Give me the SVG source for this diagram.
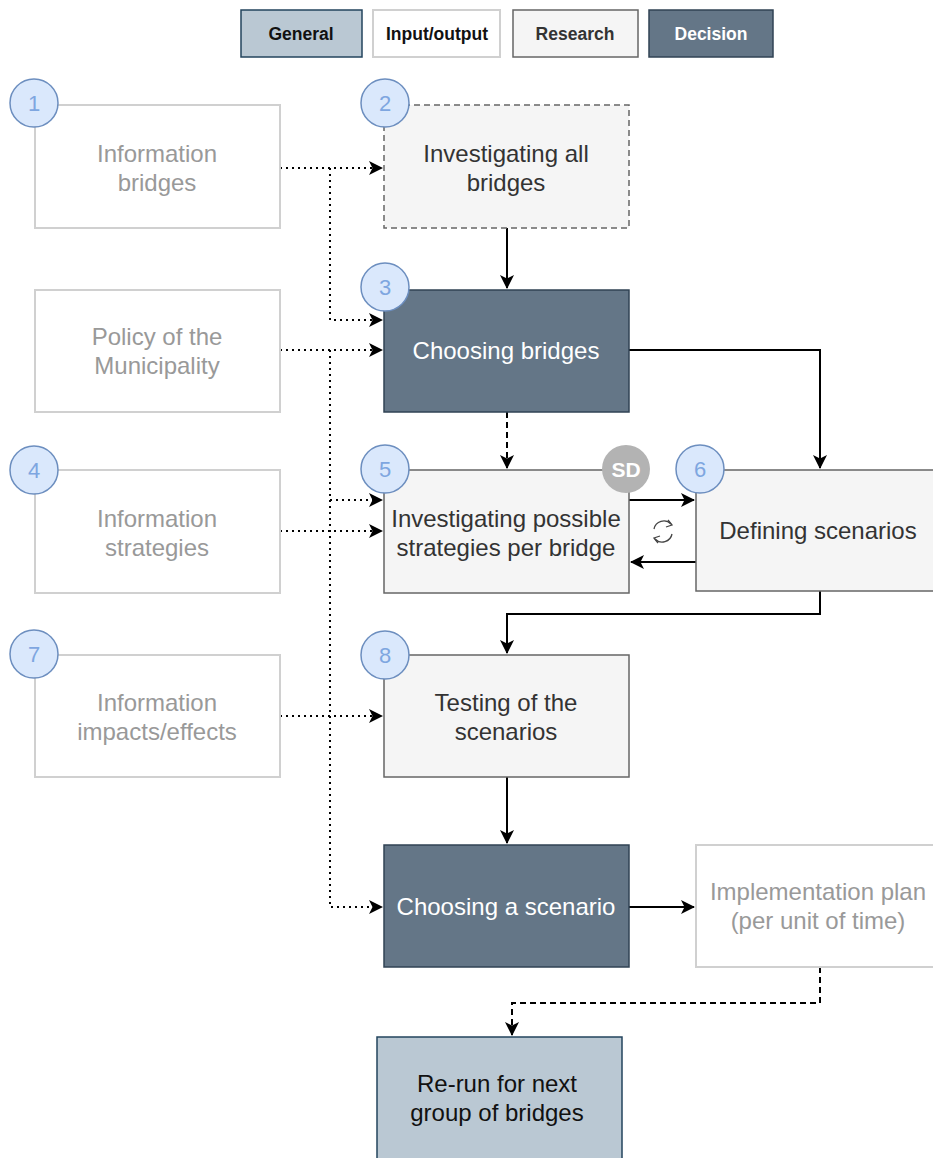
<svg xmlns="http://www.w3.org/2000/svg" width="933" height="1158" viewBox="0 0 933 1158">
<style>
text{font-family:"Liberation Sans",Arial,sans-serif;text-anchor:middle}
.t{font-size:24px;fill:#333}
.tg{font-size:24px;fill:#999}
.tw{font-size:24px;fill:#ffffff}
.tb{font-size:24px;fill:#111}
.lg{font-size:17.5px;font-weight:bold}
.gen{fill:#bac8d3;stroke:#23445d;stroke-width:1.5}
.io{fill:#ffffff;stroke:#d0d0d0;stroke-width:2}
.res{fill:#f5f5f5;stroke:#666666;stroke-width:1.5}
.dec{fill:#647687;stroke:#314354;stroke-width:1.5}
.num circle{fill:#dae8fc;stroke:#6c8ebf;stroke-width:1.5}
.num text{font-size:22px;fill:#7ea6e0}
.c{fill:none;stroke:#000;stroke-width:2}
.dot{stroke-dasharray:2 4}
.dash{stroke-dasharray:6 4}
</style>
<defs>
<marker id="a" viewBox="0 0 14 14" refX="13" refY="7" markerWidth="14" markerHeight="14" markerUnits="userSpaceOnUse" orient="auto">
<path d="M0,0 L14,7 L0,14 L3.5,7 Z" fill="#000"/>
</marker>
</defs>
<g id="legend">
<rect x="241" y="10" width="121" height="47" class="gen"/><text x="301" y="40" class="lg" fill="#111">General</text>
<rect x="373" y="10" width="127" height="47" class="io"/><text x="437" y="40" class="lg" fill="#111">Input/output</text>
<rect x="513" y="10" width="125" height="47" class="res"/><text x="575" y="40" class="lg" fill="#333">Research</text>
<rect x="649" y="10" width="124" height="47" class="dec"/><text x="711" y="40" class="lg" fill="#fff">Decision</text>
</g>
<g id="connectors">
<path class="c dot" d="M280,168 H382" marker-end="url(#a)"/>
<path class="c dot" d="M330,168 V320 H382" marker-end="url(#a)"/>
<path class="c dot" d="M280,350 H382" marker-end="url(#a)"/>
<path class="c dot" d="M330,350 V500 H382" marker-end="url(#a)"/>
<path class="c dot" d="M280,531 H382" marker-end="url(#a)"/>
<path class="c dot" d="M280,716 H382" marker-end="url(#a)"/>
<path class="c dot" d="M330,500 V907 H382" marker-end="url(#a)"/>
<path class="c" d="M507,228 V288" marker-end="url(#a)"/>
<path class="c" d="M629,350 H820 V468" marker-end="url(#a)"/>
<path class="c dash" d="M507,412 V468" marker-end="url(#a)"/>
<path class="c" d="M629,500 H694" marker-end="url(#a)"/>
<path class="c" d="M696,562 H631" marker-end="url(#a)"/>
<path class="c" d="M820,591 V614 H507 V653" marker-end="url(#a)"/>
<path class="c" d="M507,777 V843" marker-end="url(#a)"/>
<path class="c" d="M629,907 H694" marker-end="url(#a)"/>
<path class="c dash" d="M820,967 V1003 H512 V1035" marker-end="url(#a)"/>
</g>
<g id="refresh" fill="none" stroke="#444" stroke-width="1.3">
<path d="M654,529 A10,10 0 0 1 671,524"/>
<path d="M672,534 A10,10 0 0 1 655,539"/>
<path d="M668,520 L672,525 L666,527"/>
<path d="M658,543 L654,538 L660,536"/>
</g>
<g id="n1"><rect x="35" y="105" width="245" height="123" class="io"/><text class="tg" x="157" y="162">Information</text><text class="tg" x="157" y="191">bridges</text></g>
<g id="n2"><rect x="384" y="105" width="245" height="123" class="res" stroke-dasharray="6 4"/><text class="t" x="506" y="162">Investigating all</text><text class="t" x="506" y="191">bridges</text></g>
<g id="n3"><rect x="384" y="290" width="245" height="122" class="dec"/><text class="tw" x="506" y="359">Choosing bridges</text></g>
<g id="policy"><rect x="35" y="290" width="245" height="122" class="io"/><text class="tg" x="157" y="345">Policy of the</text><text class="tg" x="157" y="374">Municipality</text></g>
<g id="n4"><rect x="35" y="470" width="245" height="123" class="io"/><text class="tg" x="157" y="527">Information</text><text class="tg" x="157" y="556">strategies</text></g>
<g id="n5"><rect x="384" y="470" width="245" height="123" class="res"/><text class="t" x="506" y="527">Investigating possible</text><text class="t" x="506" y="556">strategies per bridge</text></g>
<g id="n6"><rect x="696" y="470" width="245" height="121" class="res"/><text class="t" x="818" y="539">Defining scenarios</text></g>
<g id="n7"><rect x="35" y="655" width="245" height="122" class="io"/><text class="tg" x="157" y="711">Information</text><text class="tg" x="157" y="740">impacts/effects</text></g>
<g id="n8"><rect x="384" y="655" width="245" height="122" class="res"/><text class="t" x="506" y="711">Testing of the</text><text class="t" x="506" y="740">scenarios</text></g>
<g id="n9"><rect x="384" y="845" width="245" height="122" class="dec"/><text class="tw" x="506" y="915">Choosing a scenario</text></g>
<g id="n10"><rect x="696" y="845" width="245" height="122" class="io"/><text class="tg" x="818" y="900">Implementation plan</text><text class="tg" x="818" y="929">(per unit of time)</text></g>
<g id="n11"><rect x="377" y="1037" width="245" height="130" class="gen"/><text class="tb" x="497" y="1092">Re-run for next</text><text class="tb" x="497" y="1121">group of bridges</text></g>
<g id="badges" class="num">
<circle cx="34" cy="103" r="24"/><text x="34" y="111">1</text>
<circle cx="385" cy="103" r="24"/><text x="385" y="111">2</text>
<circle cx="385" cy="287" r="24"/><text x="385" y="295">3</text>
<circle cx="34" cy="470" r="24"/><text x="34" y="478">4</text>
<circle cx="385" cy="469" r="24"/><text x="385" y="477">5</text>
<circle cx="700" cy="469" r="24"/><text x="700" y="477">6</text>
<circle cx="34" cy="654" r="24"/><text x="34" y="662">7</text>
<circle cx="385" cy="655" r="24"/><text x="385" y="663">8</text>
</g>
<g id="sd"><circle cx="626" cy="469" r="24" fill="#b3b3b3"/><text x="626" y="477" font-size="21" font-weight="bold" fill="#fff">SD</text></g>
</svg>
